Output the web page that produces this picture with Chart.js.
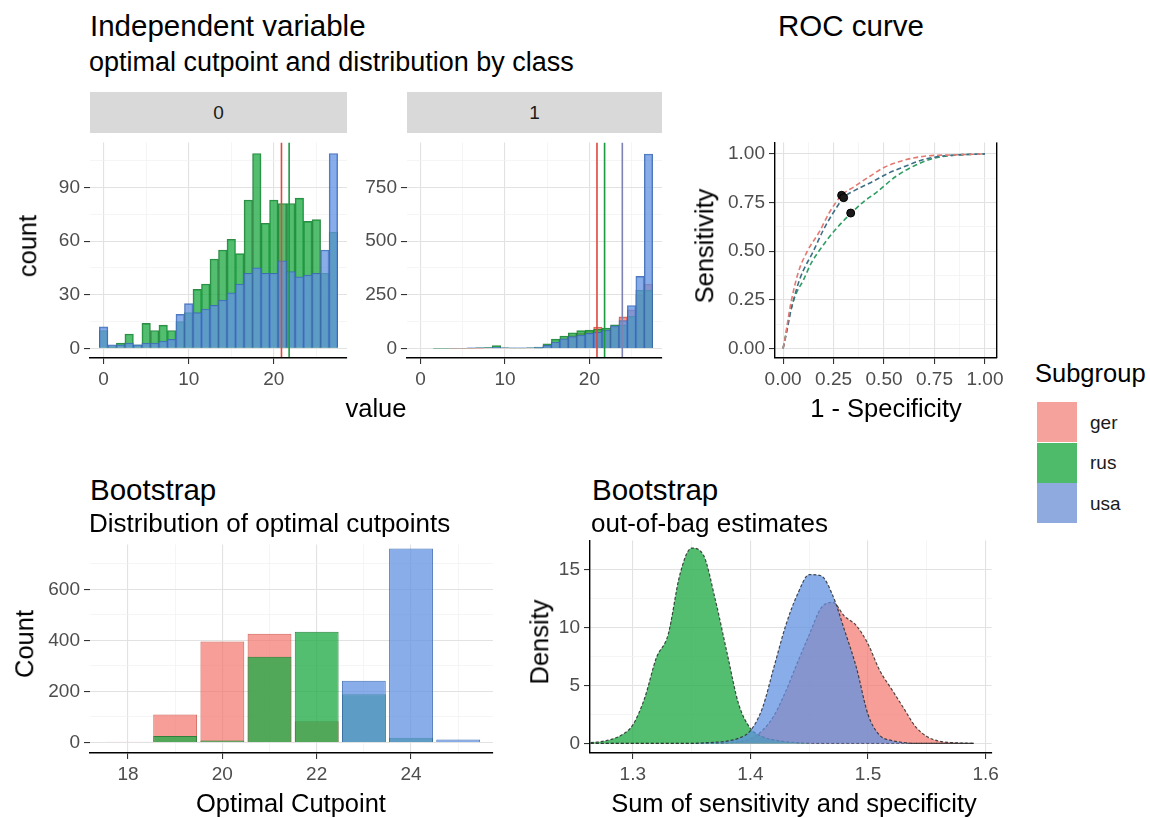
<!DOCTYPE html>
<html>
<head>
<meta charset="utf-8">
<script src="https://cdn.jsdelivr.net/npm/chart.js@4.4.0/dist/chart.umd.min.js"></script>
<style>
html, body { margin: 0; padding: 0; background: #fff; }
#stage { position: relative; width: 1150px; height: 818px; overflow: hidden; font-family: 'Liberation Sans', Arial, sans-serif; }
.txt { position: absolute; white-space: nowrap; line-height: 1; color: #000; }
.strip { position: absolute; background: #d9d9d9; color: #1a1a1a; font-size: 19px; display: flex; align-items: center; justify-content: center; }
.key { position: absolute; width: 40px; height: 40px; }
canvas { position: absolute; }
</style>
</head>
<body>
<div id="stage"></div>
<script>
// ---- data ----
const subgroups = ["ger", "rus", "usa"];

// histogram of the independent variable, by class (0 / 1)
const histBins = [0, 1, 2, 3, 4, 5, 6, 7, 8, 9, 10, 11, 12, 13, 14, 15, 16, 17, 18, 19, 20, 21, 22, 23, 24, 25, 26, 27];
const class0Rus = [10, 1, 3, 8, 2, 14, 10, 13, 10, 15, 20, 33, 36, 50, 55, 61, 53, 83, 109, 70, 83, 81, 81, 84, 71, 72, 42, 65];
const class0Usa = [12, 2, 2, 3, 2, 3, 3, 4, 5, 19, 25, 20, 22, 24, 27, 31, 36, 42, 45, 42, 42, 49, 43, 40, 41, 42, 55, 109];
const class1Ger = [0, 0, 0, 0, 1, 1, 1, 1, 2, 3, 2, 2, 2, 2, 3, 12, 30, 45, 60, 70, 80, 100, 85, 100, 147, 180, 250, 300];
const class1Rus = [0, 0, 1, 1, 2, 2, 2, 3, 4, 13, 3, 2, 2, 3, 6, 21, 43, 58, 73, 83, 85, 90, 95, 110, 110, 150, 272, 272];
const class1Usa = [0, 0, 2, 2, 2, 2, 3, 3, 3, 5, 3, 3, 3, 3, 5, 15, 30, 45, 55, 62, 70, 75, 85, 105, 130, 200, 336, 906];
const cutGer = 20.9;
const cutRus = 21.8;
const cutUsa = 23.9;

// ROC curves
const rocGerX = [0, 0.01, 0.02, 0.04, 0.075, 0.12, 0.18, 0.23, 0.29, 0.35, 0.43, 0.5, 0.59, 0.7, 0.85, 1];
const rocGerY = [0, 0.05, 0.12, 0.24, 0.39, 0.5, 0.6, 0.7, 0.787, 0.83, 0.885, 0.93, 0.965, 0.988, 0.995, 1];
const rocUsaX = [0, 0.015, 0.04, 0.084, 0.15, 0.2, 0.25, 0.3, 0.36, 0.43, 0.52, 0.59, 0.7, 0.8, 1];
const rocUsaY = [0, 0.07, 0.2, 0.36, 0.5, 0.61, 0.7, 0.775, 0.815, 0.85, 0.9, 0.93, 0.972, 0.99, 1];
const rocRusX = [0, 0.015, 0.034, 0.06, 0.1, 0.14, 0.182, 0.25, 0.338, 0.4, 0.46, 0.56, 0.673, 0.75, 0.85, 1];
const rocRusY = [0, 0.08, 0.18, 0.27, 0.35, 0.44, 0.507, 0.6, 0.696, 0.755, 0.8, 0.885, 0.95, 0.978, 0.993, 1];
const optFpr = [0.29, 0.335, 0.30];
const optTpr = [0.787, 0.696, 0.775];

// bootstrap: distribution of optimal cutpoints
const bootBins = [18, 19, 20, 21, 22, 23, 24, 25];
const bootGer = [3, 110, 396, 426, 83, 0, 0, 0];
const bootRus = [0, 25, 8, 336, 434, 189, 19, 0];
const bootUsa = [0, 0, 0, 0, 0, 242, 760, 12];

// bootstrap: out-of-bag density of sensitivity + specificity
const oobX = [1.26, 1.27, 1.28, 1.29, 1.30, 1.31, 1.32, 1.33, 1.34, 1.35, 1.36, 1.37, 1.38, 1.39, 1.40, 1.41, 1.42,
              1.43, 1.44, 1.45, 1.46, 1.47, 1.48, 1.49, 1.50, 1.51, 1.52, 1.53, 1.54, 1.55, 1.56, 1.57, 1.58, 1.59];
const oobRus = [0.05, 0.12, 0.3, 0.7, 1.6, 3.9, 7.4, 9.4, 14.6, 16.9, 16.3, 12.5, 7.9, 3.4, 1.3, 0.6, 0.3,
                0.15, 0.06, 0.02, 0, 0, 0, 0, 0, 0, 0, 0, 0, 0, 0, 0, 0, 0];
const oobUsa = [0, 0, 0, 0, 0, 0, 0, 0, 0, 0, 0.05, 0.1, 0.2, 0.45, 1.1, 3.0, 6.6,
                10.2, 12.9, 14.6, 14.5, 12.8, 9.8, 6.6, 2.5, 0.7, 0.25, 0.08, 0, 0, 0, 0, 0, 0];
const oobGer = [0, 0, 0, 0, 0, 0, 0, 0, 0, 0, 0, 0, 0.05, 0.15, 0.4, 1.1, 2.4,
                4.5, 7.0, 9.4, 11.7, 12.2, 11.0, 10.2, 8.6, 6.3, 4.7, 3.1, 1.5, 0.6, 0.2, 0.08, 0.03, 0];

// -----------------------------------------------------------------------

const FONT = "'Liberation Sans', Arial, sans-serif";
const fillCol = { ger: "rgba(242,112,102,0.68)", rus: "rgba(35,172,72,0.78)", usa: "rgba(98,146,226,0.75)" };
const edgeCol = { ger: "rgba(205,85,75,0.9)", rus: "rgba(25,125,50,0.9)", usa: "rgba(60,105,180,0.9)" };
const keyCol = { ger: "#f4a29b", rus: "#4dbb6a", usa: "#8eaade" };

const PAD_L = 64, PAD_R = 10, PAD_T = 6, PAD_B = 44;
const $stage = document.getElementById("stage");

const pts = (xs, ys) => xs.map((x, i) => ({ x, y: ys[i] }));

function addText(str, x, baseline, size, align = "left", color = "#000") {
    const $d = document.createElement("div");
    $d.className = "txt";
    $d.textContent = str;
    $d.style.fontSize = size + "px";
    $d.style.color = color;
    $d.style.left = x + "px";
    $d.style.top = (baseline - 0.8465 * size) + "px";
    if (align === "center") $d.style.transform = "translateX(-50%)";
    $stage.appendChild($d);
}

function addVText(str, cx, cy, size) {
    const $d = document.createElement("div");
    $d.className = "txt";
    $d.textContent = str;
    $d.style.fontSize = size + "px";
    $d.style.left = cx + "px";
    $d.style.top = cy + "px";
    $d.style.transform = "translate(-50%,-50%) rotate(-90deg)";
    $stage.appendChild($d);
}

function addStrip(label, l, t, w, h) {
    const $s = document.createElement("div");
    $s.className = "strip";
    Object.assign($s.style, { left: l + "px", top: t + "px", width: w + "px", height: h + "px" });
    $s.textContent = label;
    $stage.appendChild($s);
}

// linear axis with ggplot-like major + minor grid
function linAxis(pos, min, max, major, minor, fmt, showLine) {
    const isMaj = c => c.tick && c.tick.isMajor;
    return {
        type: "linear", position: pos, min, max, offset: false,
        afterBuildTicks: s => {
            s.ticks = major.map(v => ({ value: v, isMajor: true }))
                .concat(minor.map(v => ({ value: v, isMajor: false })))
                .sort((a, b) => a.value - b.value);
        },
        afterFit: s => {
            if (pos === "left") s.width = PAD_L;
            else s.height = PAD_B;
        },
        ticks: {
            autoSkip: false, maxRotation: 0, minRotation: 0, padding: 4,
            color: "#4d4d4d", font: { size: 19, family: FONT },
            callback: (v, i, t) => (t[i] && t[i].isMajor ? fmt(v) : "")
        },
        grid: {
            offset: false,
            color: c => (isMaj(c) ? "#e2e2e2" : "#f1f1f1"),
            lineWidth: c => (isMaj(c) ? 1.1 : 0.7),
            tickLength: 6,
            tickColor: c => (isMaj(c) ? "#333" : "rgba(0,0,0,0)"),
            tickWidth: 1.1
        },
        border: { display: showLine, color: "#000", width: 1.4, z: 1 }
    };
}

const rightBorder = {
    id: "rightBorder",
    afterDatasetsDraw(chart) {
        const a = chart.chartArea, ctx = chart.ctx;
        ctx.save();
        ctx.strokeStyle = "#000";
        ctx.lineWidth = 1.4;
        ctx.beginPath();
        ctx.moveTo(a.right, a.top);
        ctx.lineTo(a.right, a.bottom);
        ctx.stroke();
        ctx.restore();
    }
};

function panel(rect, config) {
    const $c = document.createElement("canvas");
    const w = rect.w + PAD_L + PAD_R, h = rect.h + PAD_T + PAD_B;
    $c.width = w;
    $c.height = h;
    Object.assign($c.style, { left: (rect.l - PAD_L) + "px", top: (rect.t - PAD_T) + "px", width: w + "px", height: h + "px" });
    $stage.appendChild($c);
    config.options = Object.assign({
        responsive: false, animation: false, devicePixelRatio: 1,
        layout: { padding: { top: PAD_T, right: PAD_R, left: 0, bottom: 0 } },
        plugins: { legend: { display: false }, tooltip: { enabled: false } }
    }, config.options);
    return new Chart($c.getContext("2d"), config);
}

function histSet(values, key, order) {
    return {
        type: "bar", data: pts(histBins, values), order, grouped: false,
        backgroundColor: fillCol[key], borderColor: edgeCol[key], borderWidth: 1,
        barPercentage: 1, categoryPercentage: 1
    };
}

function vline(x, yMin, yMax, color) {
    return {
        type: "line", data: [{ x, y: yMin }, { x, y: yMax }], order: 0,
        borderColor: color, borderWidth: 1.6, pointRadius: 0
    };
}

// ---- Independent variable, class 0 ----
const f0Y = [-5.4, 115.2];
panel({ l: 90, t: 133, w: 257, h: 225 }, {
    type: "bar",
    data: {
        datasets: [
            histSet(class0Usa, "usa", 1),
            histSet(class0Rus, "rus", 2),
            vline(cutGer, f0Y[0], f0Y[1], "#e0473d"),
            vline(cutRus, f0Y[0], f0Y[1], "#1d9a40")
        ]
    },
    options: {
        scales: {
            x: linAxis("bottom", -1.6, 28.6, [0, 10, 20], [5, 15, 25], v => String(v), true),
            y: linAxis("left", f0Y[0], f0Y[1], [0, 30, 60, 90], [15, 45, 75, 105], v => String(v), false)
        }
    }
});

// ---- Independent variable, class 1 ----
const f1Y = [-44.6, 960];
panel({ l: 407, t: 133, w: 255, h: 225 }, {
    type: "bar",
    data: {
        datasets: [
            histSet(class1Usa, "usa", 1),
            histSet(class1Rus, "rus", 2),
            histSet(class1Ger, "ger", 3),
            vline(cutGer, f1Y[0], f1Y[1], "#e0473d"),
            vline(cutRus, f1Y[0], f1Y[1], "#1d9a40"),
            vline(cutUsa, f1Y[0], f1Y[1], "#7d83b3")
        ]
    },
    options: {
        scales: {
            x: linAxis("bottom", -1.6, 28.6, [0, 10, 20], [5, 15, 25], v => String(v), true),
            y: linAxis("left", f1Y[0], f1Y[1], [0, 250, 500, 750], [125, 375, 625, 875], v => String(v), false)
        }
    }
});

// ---- ROC curve ----
function rocSet(xs, ys, color) {
    return {
        type: "line", data: pts(xs, ys), order: 2,
        borderColor: color, borderWidth: 1.6, borderDash: [5, 3],
        pointRadius: 0, cubicInterpolationMode: "monotone"
    };
}
panel({ l: 775, t: 133, w: 223, h: 225 }, {
    type: "line",
    data: {
        datasets: [
            rocSet(rocGerX, rocGerY, "#e57a72"),
            rocSet(rocUsaX, rocUsaY, "#3f6f86"),
            rocSet(rocRusX, rocRusY, "#2e9e63"),
            {
                type: "scatter", data: pts(optFpr, optTpr), order: 0,
                pointRadius: 4, pointBackgroundColor: "#1a1a1a", pointBorderColor: "#000", showLine: false
            }
        ]
    },
    options: {
        scales: {
            x: linAxis("bottom", -0.04, 1.058, [0, 0.25, 0.5, 0.75, 1], [0.125, 0.375, 0.625, 0.875], v => v.toFixed(2), true),
            y: linAxis("left", -0.049, 1.059, [0, 0.25, 0.5, 0.75, 1], [0.125, 0.375, 0.625, 0.875], v => v.toFixed(2), true)
        }
    },
    plugins: [rightBorder]
});

// ---- Bootstrap: distribution of optimal cutpoints ----
function bootSet(values, key, order) {
    return {
        type: "bar", data: pts(bootBins, values), order, grouped: false,
        backgroundColor: fillCol[key], borderColor: edgeCol[key], borderWidth: 1,
        barPercentage: 0.93, categoryPercentage: 1
    };
}
panel({ l: 90, t: 535, w: 403, h: 218 }, {
    type: "bar",
    data: {
        datasets: [
            bootSet(bootUsa, "usa", 1),
            bootSet(bootRus, "rus", 2),
            bootSet(bootGer, "ger", 3)
        ]
    },
    options: {
        scales: {
            x: linAxis("bottom", 17.194, 25.738, [18, 20, 22, 24], [19, 21, 23, 25], v => String(v), true),
            y: linAxis("left", -41.2, 776, [0, 200, 400, 600], [100, 300, 500, 700], v => String(v), false)
        }
    }
});

// ---- Bootstrap: out-of-bag estimates ----
function densSet(values, key, order) {
    return {
        type: "line", data: pts(oobX, values), order, fill: "origin",
        backgroundColor: fillCol[key], borderColor: "rgba(45,45,45,0.85)",
        borderWidth: 1.2, borderDash: [3, 2], pointRadius: 0, cubicInterpolationMode: "monotone"
    };
}
panel({ l: 590, t: 531, w: 403, h: 222 }, {
    type: "line",
    data: {
        datasets: [
            densSet(oobUsa, "usa", 1),
            densSet(oobRus, "rus", 2),
            densSet(oobGer, "ger", 3)
        ]
    },
    options: {
        scales: {
            x: linAxis("bottom", 1.2636, 1.6051, [1.3, 1.4, 1.5, 1.6], [1.35, 1.45, 1.55], v => v.toFixed(1), true),
            y: linAxis("left", -0.83, 17.56, [0, 5, 10, 15], [2.5, 7.5, 12.5], v => String(v), true)
        }
    }
});

// ---- strips, titles, axis titles ----
addStrip("0", 90, 92, 257, 41);
addStrip("1", 407, 92, 255, 41);

addText("Independent variable", 90, 36, 29.5);
addText("optimal cutpoint and distribution by class", 89, 72, 27);
addText("ROC curve", 778, 36, 29.5);
addText("Bootstrap", 90, 500, 29.5);
addText("Distribution of optimal cutpoints", 89, 532, 26);
addText("Bootstrap", 592, 500, 29.5);
addText("out-of-bag estimates", 591, 532, 26);

addText("value", 376, 418, 25.5, "center");
addText("1 - Specificity", 886, 418, 25.5, "center");
addText("Optimal Cutpoint", 291, 813, 25.5, "center");
addText("Sum of sensitivity and specificity", 794, 813, 25.5, "center");
addVText("count", 28, 246, 25.5);
addVText("Sensitivity", 705, 246, 25.5);
addVText("Count", 25, 644, 25.5);
addVText("Density", 540, 642, 25.5);

// ---- legend ----
addText("Subgroup", 1035, 383, 25.5);
subgroups.forEach((g, i) => {
    const $k = document.createElement("div");
    $k.className = "key";
    Object.assign($k.style, { left: "1037px", top: (402 + i * 40.5) + "px", background: keyCol[g] });
    $stage.appendChild($k);
    addText(g, 1090, 402 + i * 40.5 + 27, 19, "left", "#1a1a1a");
});
</script>
</body>
</html>
